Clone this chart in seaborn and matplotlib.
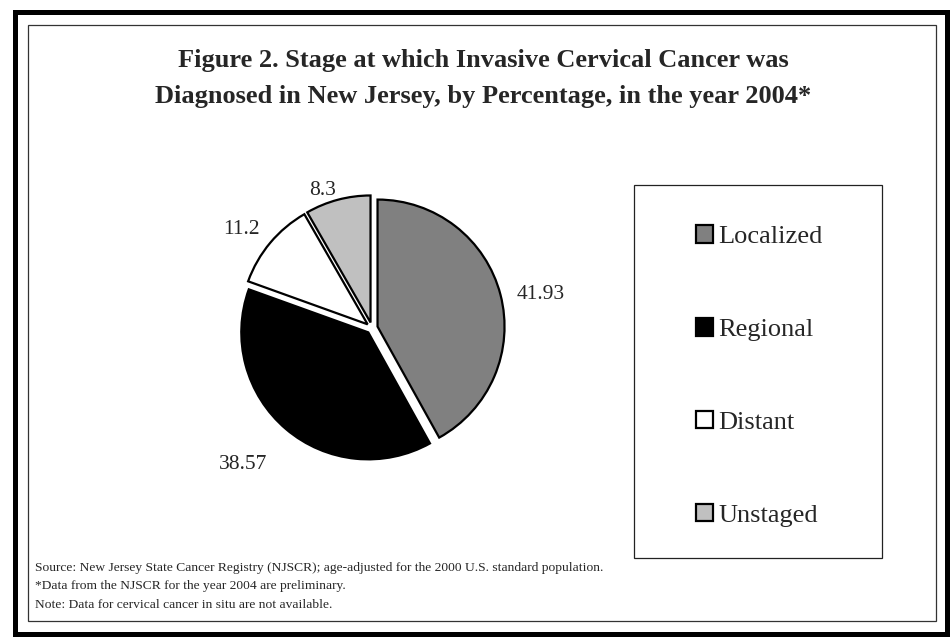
import numpy as np
import matplotlib
matplotlib.use("Agg")
import matplotlib.pyplot as plt
import seaborn as sns
from matplotlib.patches import Rectangle

# ---- data ----
stages = ["Localized", "Regional", "Distant", "Unstaged"]
percentages = [41.93, 38.57, 11.2, 8.3]
value_labels = ["41.93", "38.57", "11.2", "8.3"]
colors = ["#808080", "#000000", "#ffffff", "#c0c0c0"]
title_lines = ["Figure 2. Stage at which Invasive Cervical Cancer was",
               "Diagnosed in New Jersey, by Percentage, in the year 2004*"]
notes = ["Source: New Jersey State Cancer Registry (NJSCR); age-adjusted for the 2000 U.S. standard population.",
         "*Data from the NJSCR for the year 2004 are preliminary.",
         "Note: Data for cervical cancer in situ are not available."]

sns.set_theme(style="white")
plt.rcParams["font.family"] = ["Liberation Serif", "DejaVu Serif"]

W, H = 950, 637
fig = plt.figure(figsize=(W / 100, H / 100), dpi=100)

def fx(x):
    return x / W

def fy(y):
    return 1 - y / H

# borders
fig.patches.append(Rectangle((fx(14.5), fy(634)), fx(947) - fx(14.5), fy(11.5) - fy(634),
                             transform=fig.transFigure, fill=False, lw=3.6, ec="black"))
fig.patches.append(Rectangle((fx(28), fy(621)), fx(936) - fx(28), fy(25) - fy(621),
                             transform=fig.transFigure, fill=False, lw=0.9, ec="#333333"))
# legend box
fig.patches.append(Rectangle((fx(634), fy(558)), fx(882) - fx(634), fy(185) - fy(558),
                             transform=fig.transFigure, fill=False, lw=0.9, ec="#222222"))

# title
fig.text(fx(483), fy(61), title_lines[0], ha="center", va="center", fontsize=19, fontweight="bold")
fig.text(fx(483), fy(96), title_lines[1], ha="center", va="center", fontsize=19, fontweight="bold")

# pie axes: center (372, 328) px, radius 127 px
cx, cy, R = 372, 328, 127
half = 150
ax = fig.add_axes([fx(cx - half), fy(cy + half), 2 * half / W, 2 * half / H])
L = half / R
wedges, _ = ax.pie(percentages, colors=colors, startangle=90, counterclock=False,
                   explode=[0.045] * 4,
                   wedgeprops=dict(edgecolor="black", linewidth=1.6))
ax.set_xlim(-L, L)
ax.set_ylim(-L, L)
ax.set_aspect("equal")
ax.axis("off")

# value labels
dists = [1.13, 1.27, 1.15, 1.1]
nudges = [(6, -2), (0, -14), (0, 5), (0, 3)]  # pixel nudges
total = sum(percentages)
start = 90.0
for v, lab, d, (nx, ny) in zip(percentages, value_labels, dists, nudges):
    ang = start - v / total * 360 / 2
    start -= v / total * 360
    a = np.deg2rad(ang)
    x, y = d * np.cos(a), d * np.sin(a)
    ax.annotate(lab, (x, y), xytext=(nx, ny), textcoords="offset pixels",
                ha="left" if x > 0 else "right", va="center", fontsize=15.5)

# legend
fig.legend(wedges, stages, loc="center", bbox_to_anchor=(fx(759), fy(376)),
           frameon=False, fontsize=19, handlelength=0.65, handleheight=0.65,
           handletextpad=0.2, labelspacing=2.64)

# notes
for i, n in enumerate(notes):
    fig.text(fx(35), fy(568 + i * 18.5), n, ha="left", va="center", fontsize=9.7)

fig.savefig("out.png", dpi=100)
